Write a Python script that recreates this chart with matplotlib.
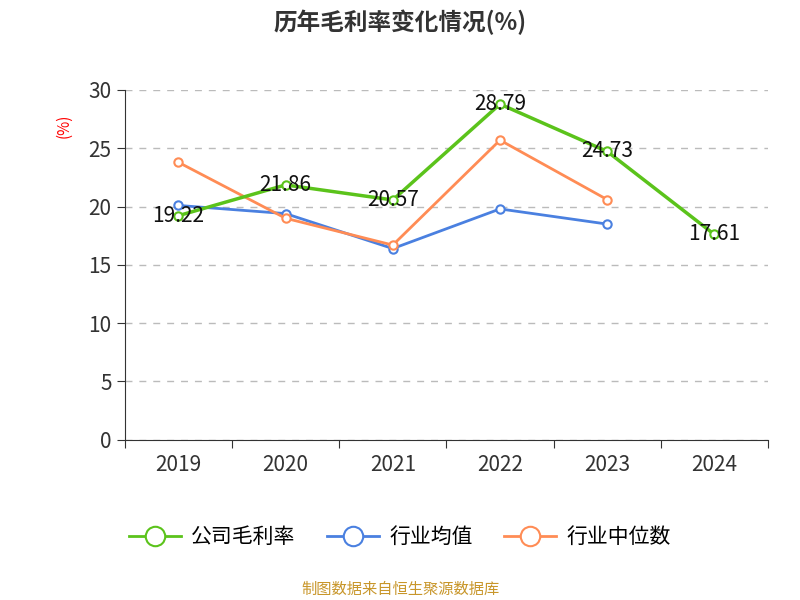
import matplotlib
matplotlib.use("Agg")
import matplotlib.pyplot as plt
from matplotlib.lines import Line2D
from matplotlib import font_manager

names = {f.name for f in font_manager.fontManager.ttflist}
cjk = [n for n in ["Noto Sans CJK SC", "Noto Sans CJK JP", "Noto Sans CJK TC", "Noto Sans CJK KR"] if n in names]
plt.rcParams["font.family"] = cjk + ["DejaVu Sans"]

years = ["2019", "2020", "2021", "2022", "2023", "2024"]
company = [19.22, 21.86, 20.57, 28.79, 24.73, 17.61]
industry_avg = [20.1, 19.4, 16.4, 19.8, 18.5]
industry_median = [23.8, 19.0, 16.7, 25.7, 20.6]
yticks = [0, 5, 10, 15, 20, 25, 30]

c_green = "#5bc31b"
c_blue = "#4a80e0"
c_orange = "#ff8c55"

fig = plt.figure(figsize=(8, 6), dpi=100)
ax = fig.add_axes([0.156, 0.267, 0.804, 0.583])
x = list(range(len(years)))

ax.plot(x[:len(industry_avg)], industry_avg, color=c_blue, lw=2, marker="o", ms=6,
        mfc="white", mec=c_blue, mew=1.5, zorder=3)
ax.plot(x[:len(industry_median)], industry_median, color=c_orange, lw=2, marker="o", ms=6,
        mfc="white", mec=c_orange, mew=1.5, zorder=3)
ax.plot(x, company, color=c_green, lw=2.5, marker="o", ms=6,
        mfc="white", mec=c_green, mew=1.5, zorder=4)
for xi, v in zip(x, company):
    ax.text(xi, v, f"{v:.2f}", ha="center", va="center", fontsize=15, color="#111111", zorder=5)

ax.set_xlim(-0.5, 5.5)
ax.set_ylim(0, 30)
ax.set_yticks(yticks)
ax.set_xticks([i - 0.5 for i in range(7)], minor=False)
ax.set_xticklabels([])
ax.set_xticks(x, minor=True)
ax.set_xticklabels(years, minor=True)
ax.tick_params(axis="x", which="minor", length=0, labelsize=15, colors="#333333", pad=10)
ax.tick_params(axis="x", which="major", length=6, color="#333333")
ax.tick_params(axis="y", labelsize=15, colors="#333333", length=6)
ax.yaxis.grid(True, ls=(0, (5, 5)), color="#bbbbbb", lw=1)
for s in ["top", "right"]:
    ax.spines[s].set_visible(False)
ax.spines["left"].set_color("#333333")
ax.spines["bottom"].set_color("#333333")
ax.set_axisbelow(True)

fig.text(0.08, 0.79, "(%)", color="red", fontsize=11, rotation=90, ha="center", va="center")
fig.text(0.5, 0.962, "历年毛利率变化情况(%)", ha="center", va="center", fontsize=17,
         fontweight="bold", color="#333333")

handles = [Line2D([], [], color=c, lw=2, marker="o", ms=14, mfc="white", mec=c, mew=1.5)
           for c in (c_green, c_blue, c_orange)]
fig.legend(handles, ["公司毛利率", "行业均值", "行业中位数"], loc="center",
           bbox_to_anchor=(0.5, 0.105), ncol=3, frameon=False, fontsize=15,
           handlelength=2.5, columnspacing=1.5, handletextpad=0.5)
fig.text(0.5, 0.017, "制图数据来自恒生聚源数据库", ha="center", va="center", fontsize=11, color="#c8962a")

fig.savefig("out.png")
